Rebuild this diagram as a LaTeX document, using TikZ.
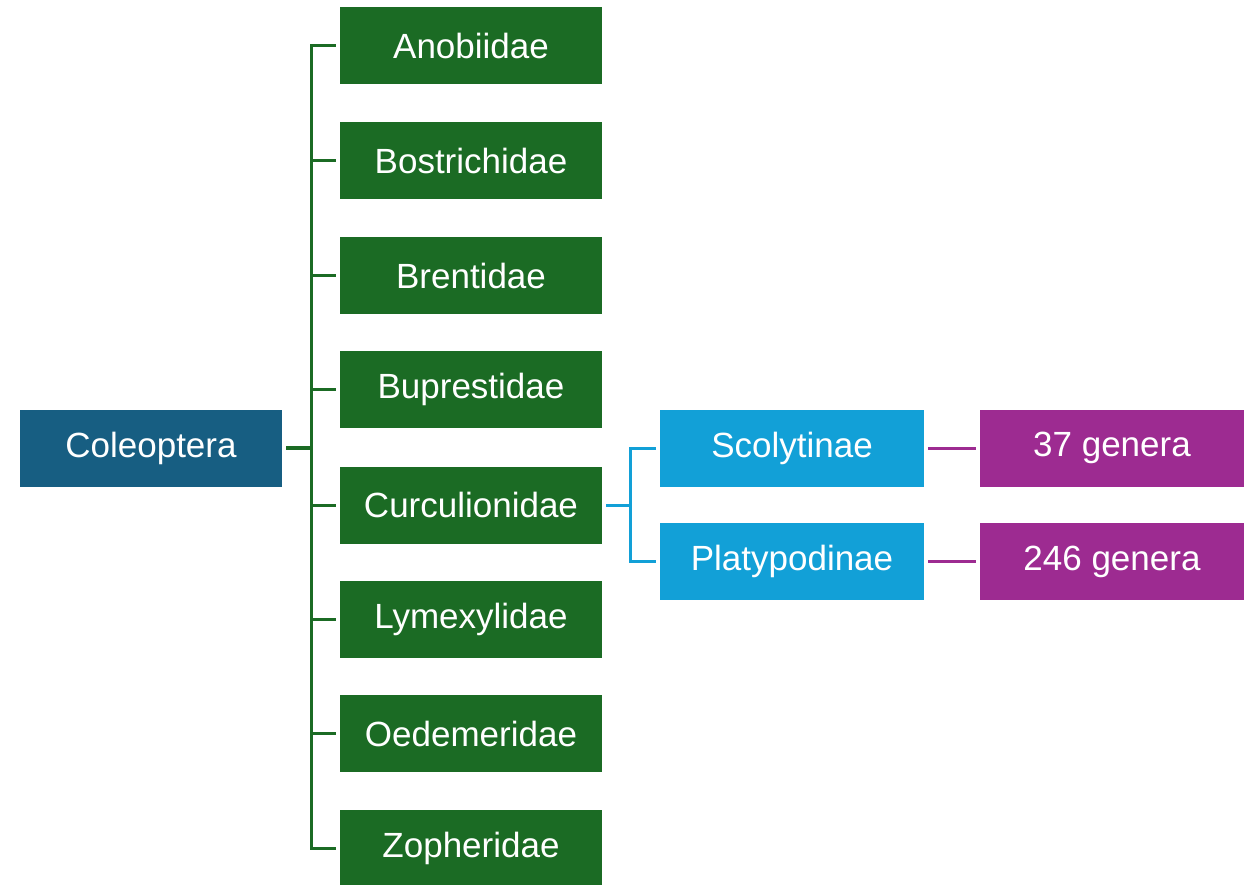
\documentclass[tikz,border=0pt]{standalone}
\usepackage{fontspec}
\setmainfont{Liberation Sans}
\definecolor{cblue}{HTML}{175E82}
\definecolor{cgreen}{HTML}{1B6B24}
\definecolor{clight}{HTML}{12A0D7}
\definecolor{cpurple}{HTML}{9D2B91}
\begin{document}
\begin{tikzpicture}[x=1pt,y=-1pt,
  box/.style={minimum width=262pt, minimum height=77pt, inner sep=0pt, text=white,
    font=\fontsize{35}{42}\selectfont},
  gbox/.style={box, fill=cgreen},
  gline/.style={draw=cgreen, line width=3pt},
  bline/.style={draw=clight, line width=3pt},
  pline/.style={draw=cpurple, line width=3pt}]
\useasboundingbox (0,0) rectangle (1247,885);
\node[box, fill=cblue] (col) at (151,448) {Coleoptera};
\node[gbox] (ano) at (471,45.5) {Anobiidae};
\node[gbox] (bos) at (471,160.5) {Bostrichidae};
\node[gbox] (bre) at (471,275.5) {Brentidae};
\node[gbox] (bup) at (471,389.5) {Buprestidae};
\node[gbox] (cur) at (471,505) {Curculionidae};
\node[gbox] (lym) at (471,619.5) {Lymexylidae};
\node[gbox] (oed) at (471,733.5) {Oedemeridae};
\node[gbox] (zop) at (471,848) {Zopheridae};
\node[box, minimum width=264pt, fill=clight] (sco) at (792,448) {Scolytinae};
\node[box, minimum width=264pt, fill=clight] (pla) at (792,561.5) {Platypodinae};
\node[box, minimum width=264pt, fill=cpurple] (g37) at (1112,448) {37 genera};
\node[box, minimum width=264pt, fill=cpurple] (g246) at (1112,561.5) {246 genera};
\coordinate (tk) at (311,0);
\coordinate (bt) at (630,0);
% green tree
\draw[gline, line width=4pt, shorten <=4pt] (col.east) -- (col.east -| tk);
\draw[gline, shorten <=4pt, shorten >=4pt] (ano.west) -- (ano.west -| tk) -- (zop.west -| tk) -- (zop.west);
\foreach \b in {bos,bre,bup,cur,lym,oed}
  \draw[gline, shorten >=4pt] (\b.west -| tk) -- (\b.west);
% blue
\draw[bline, shorten <=4pt] (cur.east) -- (cur.east -| bt);
\draw[bline, shorten <=4pt, shorten >=4pt] (sco.west) -- (sco.west -| bt) -- (pla.west -| bt) -- (pla.west);
% purple
\draw[pline, shorten <=4pt, shorten >=4pt] (sco.east) -- (g37.west);
\draw[pline, shorten <=4pt, shorten >=4pt] (pla.east) -- (g246.west);
\end{tikzpicture}
\end{document}
